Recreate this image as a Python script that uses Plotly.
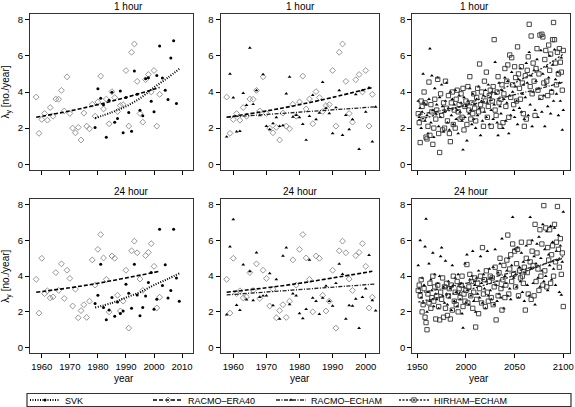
import plotly.graph_objects as go

# ---------------- data ----------------
years_era = list(range(1958, 2003))
era40_1h = [3.72, 1.71, 2.48, 2.81, 2.44, 3.14, 2.66, 3.61, 3.6, 4.09,
            2.95, 4.84, 2.81, 2.0, 1.74, 2.04, 1.34, 2.83, 2.11, 1.96,
            3.32, 2.66, 3.45, 4.88, 3.06, 3.61, 2.24, 4.02, 3.69, 2.92,
            3.25, 3.3, 5.19, 2.11, 6.2, 6.66, 4.59, 2.81, 2.33, 4.68,
            4.97, 4.0, 5.19, 2.11, 3.87]
era40_24h = [3.82, 1.93, 5.0, 3.02, 3.18, 2.78, 2.84, 4.2, 3.2, 4.69,
             2.75, 4.33, 3.87, 2.33, 3.27, 1.67, 2.07, 2.4, 1.69, 2.6,
             4.91, 3.5, 5.5, 6.33, 5.02, 3.82, 2.0, 5.13, 5.0, 2.93,
             2.05, 2.6, 4.33, 1.09, 5.42, 5.96, 5.31, 3.84, 3.2, 5.15,
             5.33, 5.82, 4.55, 2.22, 2.82]

years_svk = list(range(1979, 2010))
svk_1h = [2.04, 4.18, 3.65, 3.3, 1.49, 3.55, 3.98, 2.33, 2.53, 4.05,
          1.74, 3.69, 2.86, 1.83, 5.16, 3.87, 2.99, 2.68, 4.73, 4.79,
          3.49, 2.9, 4.92, 6.55, 4.77, 4.1, 3.58, 5.89, 6.84, 3.36, None]
svk_24h = [2.47, 2.93, 4.67, 2.24, 1.56, 2.11, 2.8, 1.75, 2.55, 1.91,
           2.05, 3.55, 3.04, 2.2, 4.67, 2.95, 1.78, 2.24, 2.89, 3.65,
           4.2, 2.15, 2.7, 6.62, 3.48, 4.64, 2.78, 3.2, 6.62, 3.9, 2.59]

years_ech = list(range(1958, 2004))
racmo_echam_obs_1h = [1.52, 5.0, 3.69, 1.8, 1.83, 3.94, 3.27, 6.44, 3.32, 4.09,
                      2.7, 4.97, 2.11, 1.93, 2.26, 2.59, 2.11, 2.15, 3.91, 4.83,
                      2.62, 2.72, 2.59, 2.22, 1.34, 2.66, 3.82, 2.48, 2.84, 4.55,
                      3.1, 2.81, 1.71, 3.14, 4.09, 1.61, 2.72, 1.93, 2.48, 3.87,
                      0.83, 4.09, 2.9, 4.24, 1.25, 3.17]
racmo_echam_obs_24h = [1.84, 5.65, 7.18, 2.38, 2.09, 4.64, 2.69, 4.27, 2.64, 5.31,
                       2.82, 2.9, 2.91, 4.15, 2.36, 3.82, 1.6, 5.13, 5.6, 2.42,
                       3.02, 2.91, 1.91, 1.64, 2.15, 4.91, 2.78, 2.6, 1.87, 2.78,
                       3.45, 2.6, 2.33, 3.6, 4.69, 4.11, 1.6, 2.36, 2.33, 2.73,
                       1.09, 2.82, 3.3, 5.18, 2.64, 2.07]

years_scen = list(range(1951, 2101))
hirham_1h = [2.8, 2.3, 1.2, 3.5, 3.2, 2.5, 4.0, 3.4, 1.5, 1.4,
             2.1, 4.55, 1.6, 3.3, 2.9, 1.1, 2.0, 3.6, 2.5, 3.0,
             4.7, 1.7, 0.65, 3.9, 2.7, 1.9, 3.4, 2.0, 4.6, 3.1,
             2.4, 3.8, 1.7, 1.25, 3.4, 4.0, 2.2, 3.0, 2.0, 3.6,
             4.1, 2.9, 3.3, 2.5, 3.9, 2.6, 4.2, 1.9, 3.2, 3.5,
             2.2, 4.3, 3.0, 4.85, 2.5, 3.4, 2.8, 3.9, 3.1, 2.4,
             3.7, 4.2, 2.9, 5.55, 3.3, 4.0, 3.0, 2.1, 4.6, 3.5,
             5.1, 2.6, 3.2, 3.8, 4.1, 2.1, 3.5, 4.3, 6.9, 3.0,
             2.7, 4.0, 4.85, 3.4, 2.1, 3.6, 4.4, 2.3, 3.9, 5.3,
             3.2, 4.6, 5.5, 2.6, 6.05, 3.7, 5.9, 4.4, 3.3, 5.4,
             4.8, 3.5, 6.5, 5.0, 4.2, 3.6, 5.4, 4.5, 2.8, 2.1,
             4.9, 2.5, 5.2, 5.95, 7.75, 4.3, 7.1, 3.9, 5.6, 4.6,
             2.7, 5.3, 6.4, 4.1, 5.0, 7.15, 3.7, 7.2, 7.05, 4.5,
             5.8, 6.3, 4.6, 3.8, 6.6, 5.2, 6.1, 4.0, 6.9, 7.85,
             6.9, 5.6, 4.4, 6.2, 5.0, 6.4, 5.65, 5.1, 4.1, 6.3]
racmo_echam_1h = [3.5, 2.6, 3.1, 2.0, 2.9, 5.0, 3.4, 2.4, 3.3, 2.7,
                  1.7, 3.6, 6.4, 2.3, 4.9, 3.0, 1.5, 4.2, 2.8, 3.3,
                  4.8, 2.1, 3.7, 2.6, 4.4, 3.2, 1.8, 2.9, 3.5, 4.5,
                  2.3, 3.1, 1.9, 4.0, 2.7, 3.6, 2.2, 3.3, 4.1, 2.5,
                  3.0, 1.7, 3.8, 2.9, 3.4, 2.4, 0.8, 3.7, 2.6, 3.2,
                  1.3, 3.5, 2.8, 4.2, 3.0, 2.2, 3.9, 2.5, 3.3, 2.0,
                  3.6, 2.7, 4.3, 3.1, 1.6, 3.5, 2.4, 3.8, 2.9, 4.1,
                  2.6, 3.4, 4.4, 2.2, 3.7, 3.0, 4.0, 2.5, 3.3, 5.65,
                  3.9, 2.3, 1.6, 4.5, 3.2, 2.8, 4.1, 2.0, 3.6, 4.8,
                  2.4, 3.4, 4.6, 1.7, 3.8, 2.7, 5.1, 4.0, 3.0, 2.6,
                  4.3, 3.5, 2.2, 4.7, 3.1, 5.3, 2.9, 3.9, 4.4, 2.5,
                  3.7, 5.6, 4.5, 2.7, 6.2, 3.3, 4.9, 2.1, 4.0, 5.2,
                  3.0, 4.6, 5.8, 2.6, 4.2, 3.6, 6.3, 2.9, 5.0, 3.8,
                  2.1, 4.4, 5.4, 3.2, 4.8, 6.0, 2.8, 4.1, 5.5, 3.5,
                  6.35, 4.7, 3.9, 5.1, 2.7, 4.5, 3.5, 5.9, 1.9, 3.0]
hirham_24h = [3.2, 3.5, 2.9, 3.8, 2.0, 2.4, 3.3, 1.7, 1.4, 1.0,
              3.0, 2.5, 3.6, 2.2, 2.8, 4.0, 2.6, 3.4, 1.6, 2.9,
              3.5, 2.3, 1.55, 3.1, 2.7, 3.9, 1.7, 3.4, 2.2, 3.6,
              1.8, 2.9, 3.3, 1.6, 3.5, 2.1, 4.0, 2.6, 3.1, 2.4,
              3.7, 2.0, 3.3, 2.8, 3.5, 4.0, 2.3, 3.0, 2.6, 3.2,
              4.65, 2.5, 3.4, 4.1, 2.9, 3.7, 2.2, 3.1, 3.9, 1.15,
              2.7, 3.6, 1.9, 3.3, 4.0, 2.5, 5.6, 3.0, 3.8, 2.3,
              4.3, 3.1, 2.6, 3.7, 4.0, 2.8, 3.9, 2.4, 3.4, 4.5,
              1.55, 3.6, 2.9, 4.2, 5.0, 3.3, 2.1, 3.8, 4.6, 2.8,
              3.5, 4.9, 6.3, 3.0, 4.4, 5.2, 3.7, 5.8, 4.1, 5.4,
              3.4, 4.7, 5.5, 2.9, 4.3, 3.9, 5.9, 4.0, 3.6, 4.5,
              2.1, 5.0, 4.2, 3.0, 5.9, 4.8, 2.7, 5.4, 4.6, 2.9,
              6.9, 3.7, 5.3, 4.4, 3.2, 6.6, 4.0, 5.8, 3.5, 7.95,
              4.3, 6.7, 3.4, 5.6, 4.9, 6.6, 3.6, 5.2, 5.7, 4.0,
              6.9, 4.8, 5.9, 7.9, 5.5, 4.5, 6.1, 4.1, 5.3, 2.3]
racmo_echam_24h = [4.6, 3.3, 6.0, 2.8, 3.9, 2.5, 3.5, 5.65, 7.2, 2.0,
                   3.1, 4.7, 2.6, 3.8, 3.2, 5.3, 2.3, 4.1, 3.0, 2.7,
                   3.6, 2.2, 4.0, 5.1, 5.6, 2.9, 3.4, 2.5, 4.85, 3.0,
                   2.4, 3.7, 2.8, 3.3, 2.1, 4.6, 3.5, 2.6, 3.9, 3.1,
                   2.3, 4.1, 3.0, 2.7, 3.6, 1.9, 1.1, 3.4, 4.7, 2.5,
                   5.2, 3.2, 2.4, 3.8, 2.9, 4.0, 5.4, 2.6, 3.5, 2.0,
                   3.9, 3.0, 4.3, 2.8, 5.1, 3.6, 2.5, 4.1, 3.3, 2.2,
                   3.7, 5.4, 2.9, 4.4, 3.2, 2.7, 3.9, 4.5, 2.4, 5.5,
                   3.5, 2.6, 4.2, 3.0, 4.7, 2.8, 6.1, 3.4, 2.2, 4.0,
                   3.6, 4.3, 2.9, 5.0, 3.3, 2.7, 4.6, 7.3, 3.9, 5.5,
                   4.1, 3.4, 5.6, 2.8, 4.5, 3.7, 5.3, 3.1, 4.8, 2.6,
                   4.2, 5.7, 3.5, 4.9, 2.9, 7.3, 4.4, 6.0, 3.6, 5.1,
                   2.4, 4.7, 5.8, 3.9, 6.2, 3.4, 5.0, 4.3, 6.9, 3.7,
                   5.5, 4.0, 6.5, 3.2, 5.2, 4.6, 6.8, 3.8, 5.9, 4.4,
                   6.7, 3.5, 5.4, 4.9, 6.3, 3.1, 5.7, 2.95, 4.8, 7.6]

# fitted trends (read at a few years)
tr_era_years = [1958, 1970, 1980, 1990, 2002]
tr_era_1h = [2.6, 2.95, 3.3, 3.7, 4.25]
tr_era_24h = [3.1, 3.35, 3.6, 3.9, 4.27]
tr_svk_years = [1979, 1985, 1990, 1995, 2000, 2005, 2009]
tr_svk_1h = [2.55, 2.88, 3.2, 3.65, 4.25, 4.8, 5.28]
tr_svk_24h = [2.24, 2.5, 2.8, 3.1, 3.5, 3.85, 4.15]
tr_ech_years = [1958, 2003]
tr_ech_1h = [2.6, 3.18]
tr_ech_24h = [2.95, 3.56]
tr_scen_years = [1951, 1975, 2000, 2025, 2050, 2075, 2100]
tr_hir_1h = [2.45, 2.83, 3.3, 3.86, 4.5, 5.22, 6.1]
tr_rac_1h = [2.75, 2.98, 3.26, 3.52, 3.85, 4.18, 4.55]
tr_hir_24h = [2.55, 2.85, 3.2, 3.6, 4.05, 4.55, 5.1]
tr_rac_24h = [3.05, 3.3, 3.6, 3.9, 4.25, 4.6, 5.0]

row_titles = ["1 hour", "24 hour"]
series_names = ["SVK", "RACMO\u2013ERA40", "RACMO\u2013ECHAM", "HIRHAM\u2013ECHAM"]
x_ticks = [[1960, 1970, 1980, 1990, 2000, 2010], [1960, 1970, 1980, 1990, 2000],
           [1950, 2000, 2050, 2100]]
y_ticks = [0, 2, 4, 6, 8]

# ---------------- styles ----------------
W, H = 575, 407
FONT = "Liberation Sans, Arial, Helvetica, sans-serif"
style = {
    "SVK": dict(marker=dict(symbol="circle", size=3, color="black"),
                line=dict(color="black", width=2, dash="1px,1.5px")),
    "ERA": dict(marker=dict(symbol="diamond-open", size=4.5, color="#8a8a8a",
                            line=dict(width=0.9)),
                line=dict(color="black", width=1.6, dash="4px,2px")),
    "ECH": dict(marker=dict(symbol="triangle-up", size=3.3, color="black"),
                line=dict(color="#222", width=1.3, dash="4px,1.5px,1px,1.5px")),
    "HIR": dict(marker=dict(symbol="square-open", size=4.3, color="#333",
                            line=dict(width=0.9)),
                line=dict(color="#222", width=1.3, dash="2px,1.5px")),
}

col_x = [(30, 193), (220.7, 379.3), (412.3, 570)]
row_y = [(14, 170), (199, 353.3)]
x_ranges = [[1955.8, 2013.9], [1956.2, 2004.1], [1944.9, 2106.9]]

fig = go.Figure()


def ax_id(r, c):
    return r * 3 + c + 1


def add_pts(r, c, x, y, key):
    i = ax_id(r, c)
    s = style[key]
    fig.add_trace(go.Scatter(x=x, y=y, mode="markers", marker=s["marker"],
                             xaxis=f"x{i}", yaxis=f"y{i}", showlegend=False,
                             hoverinfo="skip"))


def add_trend(r, c, x, y, key):
    i = ax_id(r, c)
    s = style[key]
    fig.add_trace(go.Scatter(x=x, y=y, mode="lines", line=dict(**s["line"], shape="spline"),
                             xaxis=f"x{i}", yaxis=f"y{i}", showlegend=False,
                             hoverinfo="skip"))


# column 1: SVK and RACMO-ERA40
add_pts(0, 0, years_era, era40_1h, "ERA")
add_pts(0, 0, years_svk, svk_1h, "SVK")
add_trend(0, 0, tr_era_years, tr_era_1h, "ERA")
add_trend(0, 0, tr_svk_years, tr_svk_1h, "SVK")
add_pts(1, 0, years_era, era40_24h, "ERA")
add_pts(1, 0, years_svk, svk_24h, "SVK")
add_trend(1, 0, tr_era_years, tr_era_24h, "ERA")
add_trend(1, 0, tr_svk_years, tr_svk_24h, "SVK")

# column 2: RACMO-ERA40 and RACMO-ECHAM
add_pts(0, 1, years_era, era40_1h, "ERA")
add_pts(0, 1, years_ech, racmo_echam_obs_1h, "ECH")
add_trend(0, 1, tr_era_years, tr_era_1h, "ERA")
add_trend(0, 1, tr_ech_years, tr_ech_1h, "ECH")
add_pts(1, 1, years_era, era40_24h, "ERA")
add_pts(1, 1, years_ech, racmo_echam_obs_24h, "ECH")
add_trend(1, 1, tr_era_years, tr_era_24h, "ERA")
add_trend(1, 1, tr_ech_years, tr_ech_24h, "ECH")

# column 3: RACMO-ECHAM and HIRHAM-ECHAM scenarios
add_pts(0, 2, years_scen, racmo_echam_1h, "ECH")
add_pts(0, 2, years_scen, hirham_1h, "HIR")
add_trend(0, 2, tr_scen_years, tr_rac_1h, "ECH")
add_trend(0, 2, tr_scen_years, tr_hir_1h, "HIR")
add_pts(1, 2, years_scen, racmo_echam_24h, "ECH")
add_pts(1, 2, years_scen, hirham_24h, "HIR")
add_trend(1, 2, tr_scen_years, tr_rac_24h, "ECH")
add_trend(1, 2, tr_scen_years, tr_hir_24h, "HIR")

# legend-only entries
for name, key in zip(series_names, ["SVK", "ERA", "ECH", "HIR"]):
    s = style[key]
    fig.add_trace(go.Scatter(x=[None], y=[None], mode="lines+markers", name=name,
                             marker=s["marker"], line=s["line"], xaxis="x1", yaxis="y1"))

layout = dict(
    width=W, height=H, margin=dict(l=0, r=0, t=0, b=0, autoexpand=False),
    paper_bgcolor="white", plot_bgcolor="white",
    font=dict(family=FONT, size=9, color="black"),
    showlegend=True,
    legend=dict(orientation="h", x=25 / W, xanchor="left", y=1 - 385.5 / H, yanchor="top",
                bgcolor="rgba(0,0,0,0)", borderwidth=0, font=dict(size=9),
                entrywidth=78, itemwidth=30, tracegroupgap=0),
)
annotations = []
for r in range(2):
    for c in range(3):
        i = ax_id(r, c)
        sfx = "" if i == 1 else str(i)
        x0, x1 = col_x[c]
        y0, y1 = row_y[r]
        layout[f"xaxis{sfx}"] = dict(
            domain=[x0 / W, x1 / W], range=x_ranges[c], anchor=f"y{i}",
            tickvals=x_ticks[c], ticks="outside", ticklen=4, tickcolor="black",
            showticklabels=(r == 1), showgrid=False, zeroline=False, automargin=False,
            showline=True, mirror=True, linecolor="#333", linewidth=1.3,
            tickfont=dict(size=9.5))
        layout[f"yaxis{sfx}"] = dict(
            domain=[1 - y1 / H, 1 - y0 / H], range=[-0.32, 8.32], anchor=f"x{i}",
            tickvals=y_ticks, ticks="outside", ticklen=4, tickcolor="black",
            showgrid=False, zeroline=False, automargin=False,
            showline=True, mirror=True, linecolor="#333", linewidth=1.3,
            tickfont=dict(size=9.5))
        if c == 0:
            layout[f"yaxis{sfx}"]["title"] = dict(text="\u03bb<sub>y</sub> [no./year]",
                                                   font=dict(size=10), standoff=6)
        annotations.append(dict(text=row_titles[r], x=(x0 + x1) / 2 / W, y=1 - (y0 - 7.5) / H,
                                xref="paper", yref="paper", showarrow=False,
                                font=dict(size=10), yanchor="middle"))
        if r == 1:
            annotations.append(dict(text="year", x=(x0 + x1) / 2 / W, y=1 - 378 / H,
                                    xref="paper", yref="paper", showarrow=False,
                                    font=dict(size=10), yanchor="middle"))
layout["annotations"] = annotations
layout["shapes"] = [dict(type="rect", xref="paper", yref="paper",
                         x0=27 / W, x1=571 / W, y0=1 - 406.5 / H, y1=1 - 393.5 / H,
                         line=dict(color="#333", width=1.2))]
fig.update_layout(**layout)
fig.write_html("out.html", config={"displayModeBar": False},
               post_script="document.body.style.margin='0';document.body.style.overflow='hidden';")
